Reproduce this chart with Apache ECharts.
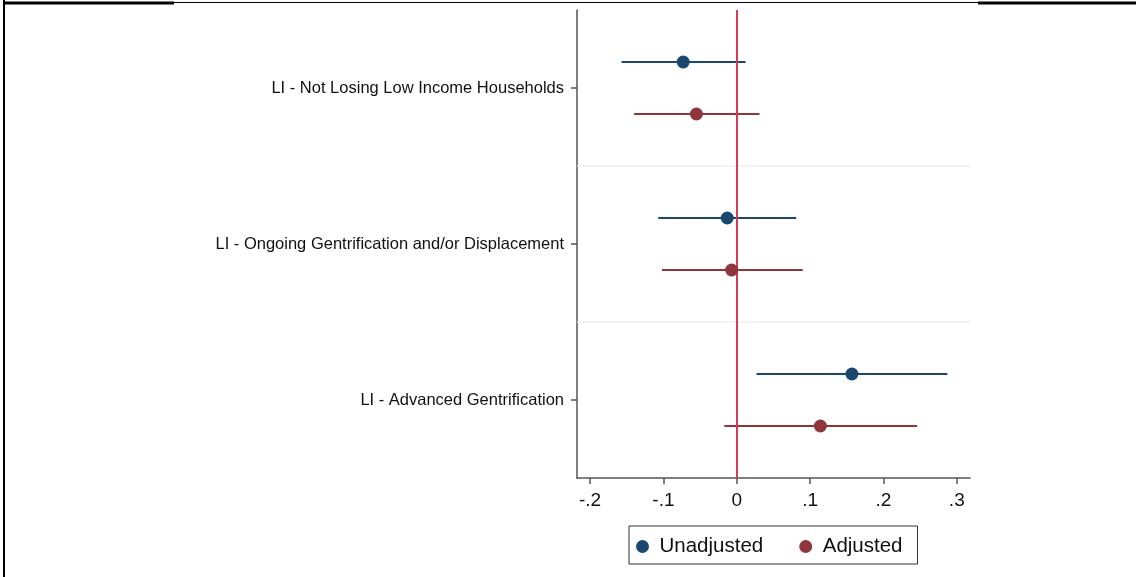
<!DOCTYPE html>
<html>
<head>
<meta charset="utf-8">
<script src="https://cdn.jsdelivr.net/npm/echarts@6/dist/echarts.min.js"></script>
<style>
html,body{margin:0;padding:0;background:#fff;}
#chart{width:1136px;height:577px;}
</style>
</head>
<body>
<div id="chart"></div>
<script>
var categories = ['LI - Not Losing Low Income Households', 'LI - Ongoing Gentrification and/or Displacement', 'LI - Advanced Gentrification'];
var unadjEst = [-0.073, -0.013, 0.157];
var unadjLo  = [-0.157, -0.107, 0.027];
var unadjHi  = [0.012, 0.081, 0.287];
var adjEst   = [-0.055, -0.007, 0.114];
var adjLo    = [-0.140, -0.102, -0.017];
var adjHi    = [0.031, 0.090, 0.246];
var xTicks = [-0.2, -0.1, 0, 0.1, 0.2, 0.3];
var xTickLabels = ['-.2', '-.1', '0', '.1', '.2', '.3'];
var seriesNames = ['Unadjusted', 'Adjusted'];

var BLUE = '#1a476f', MAROON = '#90353b', REFRED = '#d43c5c';
var OFF = 1 / 6;
var catPos = categories.map(function (c, i) { return i + 0.5; });

function ciData(lo, hi, off) {
  return lo.map(function (l, i) { return [l, hi[i], catPos[i] + off]; });
}
function ptData(est, off) {
  return est.map(function (e, i) { return [e, catPos[i] + off]; });
}
function ciRender(color) {
  return function (params, api) {
    var a = api.coord([api.value(0), api.value(2)]);
    var b = api.coord([api.value(1), api.value(2)]);
    return { type: 'line', shape: { x1: a[0], y1: a[1], x2: b[0], y2: b[1] },
      style: { stroke: color, lineWidth: 2 } };
  };
}

var FONT = 'Liberation Sans, Arial, sans-serif';
var chart = echarts.init(document.getElementById('chart'), null, { renderer: 'canvas' });
chart.setOption({
  animation: false,
  backgroundColor: '#fff',
  textStyle: { fontFamily: FONT },
  grid: { left: 577, right: 166, top: 10, bottom: 99 },
  xAxis: {
    type: 'value', min: -0.2178, max: 0.318,
    axisLine: { show: true, onZero: false, lineStyle: { color: '#555', width: 1.5 } },
    axisTick: { show: true, length: 6, customValues: xTicks, lineStyle: { color: '#555', width: 1.5 } },
    axisLabel: { customValues: xTicks, margin: 13, fontSize: 19, color: '#111',
      formatter: function (v) { var i = xTicks.findIndex(function (t) { return Math.abs(t - v) < 1e-6; }); return i >= 0 ? xTickLabels[i] : ''; } },
    splitLine: { show: false }
  },
  yAxis: {
    type: 'value', min: 0, max: 3, inverse: true,
    axisLine: { show: true, onZero: false, lineStyle: { color: '#555', width: 1.5 } },
    axisTick: { show: true, length: 6, customValues: catPos, lineStyle: { color: '#555', width: 1.5 } },
    axisLabel: { customValues: catPos, margin: 13, fontSize: 16.5, color: '#111',
      formatter: function (v) { var i = Math.round(v - 0.5); return categories[i] || ''; } },
    splitLine: { show: false }
  },
  legend: {
    left: 629, top: 526, orient: 'horizontal',
    data: seriesNames,
    icon: 'circle', itemWidth: 24, itemHeight: 13, itemGap: 36,
    padding: [10, 15, 7, 7],
    borderColor: '#333', borderWidth: 1,
    textStyle: { fontSize: 20.5, color: '#111', fontFamily: FONT }
  },
  graphic: [
    { type: 'line', shape: { x1: 4, y1: 0, x2: 4, y2: 577 }, style: { stroke: '#000', lineWidth: 2 } },
    { type: 'line', shape: { x1: 4, y1: 3, x2: 174, y2: 3 }, style: { stroke: '#000', lineWidth: 3 } },
    { type: 'line', shape: { x1: 174, y1: 2.5, x2: 978, y2: 2.5 }, style: { stroke: '#000', lineWidth: 1 } },
    { type: 'line', shape: { x1: 978, y1: 3, x2: 1136, y2: 3 }, style: { stroke: '#000', lineWidth: 3 } }
  ],
  series: [
    { name: 'sep', type: 'line', data: [], silent: true,
      markLine: { silent: true, symbol: 'none', label: { show: false },
        lineStyle: { color: '#eaf2f3', width: 1.5, type: 'solid' },
        data: [{ yAxis: 1 }, { yAxis: 2 }] } },
    { name: 'ciU', type: 'custom', renderItem: ciRender(BLUE), data: ciData(unadjLo, unadjHi, -OFF), encode: { x: [0, 1], y: 2 }, z: 3 },
    { name: 'ciA', type: 'custom', renderItem: ciRender(MAROON), data: ciData(adjLo, adjHi, OFF), encode: { x: [0, 1], y: 2 }, z: 3 },
    { name: 'ref', type: 'line', data: [], silent: true, z: 4,
      markLine: { silent: true, symbol: 'none', label: { show: false },
        lineStyle: { color: REFRED, width: 2, type: 'solid' },
        data: [{ xAxis: 0 }] } },
    { name: seriesNames[0], type: 'scatter', data: ptData(unadjEst, -OFF), symbolSize: 13, itemStyle: { color: BLUE, opacity: 1 }, z: 5 },
    { name: seriesNames[1], type: 'scatter', data: ptData(adjEst, OFF), symbolSize: 13, itemStyle: { color: MAROON, opacity: 1 }, z: 5 }
  ]
});
</script>
</body>
</html>
